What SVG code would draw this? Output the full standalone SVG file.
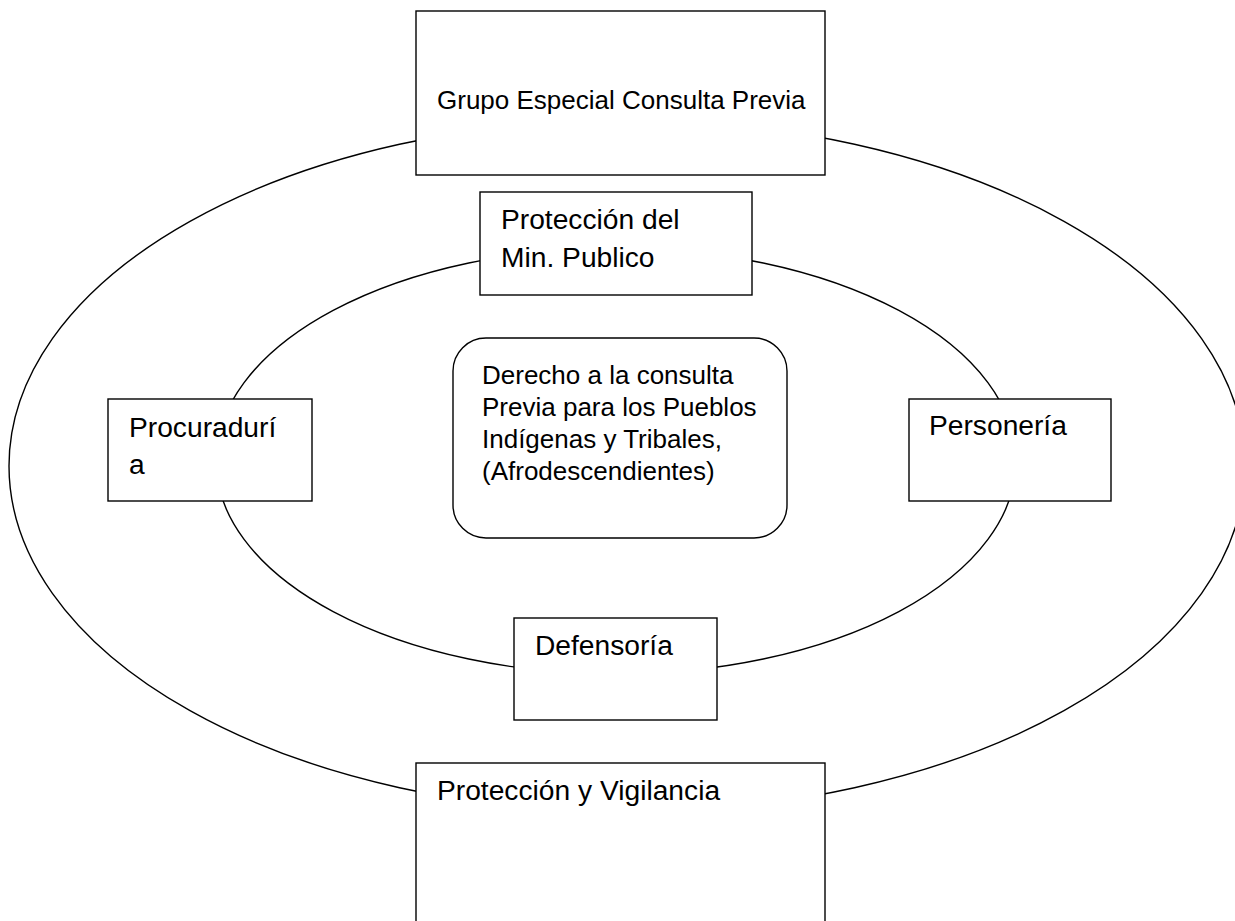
<svg xmlns="http://www.w3.org/2000/svg" width="1235" height="921" viewBox="0 0 1235 921">
<style>
.ring{fill:none;stroke:#000;stroke-width:1.4}
.box{fill:#fff;stroke:#000;stroke-width:1.4}
.t{font-family:"Liberation Sans",Arial,sans-serif;fill:#000}
.s{font-size:26px}
.m{font-size:28.2px}
</style>
<rect width="1235" height="921" fill="#fff"/>
<g id="rings">
<ellipse class="ring" cx="627" cy="466" rx="618" ry="346"/>
<ellipse class="ring" cx="616" cy="461" rx="400" ry="213"/>
</g>
<g id="grupo">
<rect class="box" x="416" y="11" width="409" height="164"/>
<text class="t s" x="437" y="109">Grupo Especial Consulta Previa</text>
</g>
<g id="min-publico">
<rect class="box" x="480" y="192" width="272" height="103"/>
<text class="t m" x="501" y="229">Protección del</text>
<text class="t m" x="501" y="267">Min. Publico</text>
</g>
<g id="procuraduria">
<rect class="box" x="108" y="399" width="204" height="102"/>
<text class="t m" x="129" y="437">Procuradurí</text>
<text class="t m" x="129" y="474">a</text>
</g>
<g id="personeria">
<rect class="box" x="909" y="399" width="202" height="102"/>
<text class="t m" x="929" y="435">Personería</text>
</g>
<g id="derecho">
<rect class="box" x="453" y="338" width="334" height="200" rx="33" ry="33"/>
<text class="t s" x="482" y="384">Derecho a la consulta</text>
<text class="t s" x="482" y="416">Previa para los Pueblos</text>
<text class="t s" x="482" y="448">Indígenas y Tribales,</text>
<text class="t s" x="482" y="480">(Afrodescendientes)</text>
</g>
<g id="defensoria">
<rect class="box" x="514" y="618" width="203" height="102"/>
<text class="t m" x="535" y="655">Defensoría</text>
</g>
<g id="vigilancia">
<rect class="box" x="416" y="763" width="409" height="180"/>
<text class="t m" x="437" y="800">Protección y Vigilancia</text>
</g>
</svg>
